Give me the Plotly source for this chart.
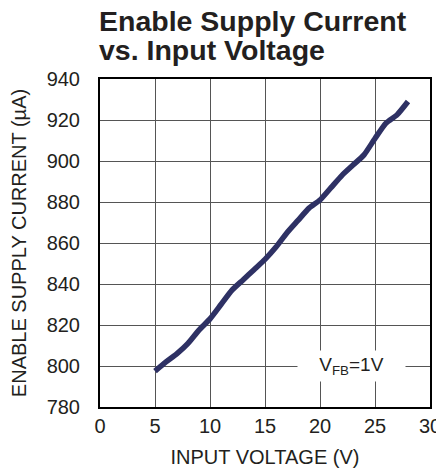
import plotly.graph_objects as go

voltage = [5, 6, 7, 8, 9, 10, 11, 12, 13, 14, 15, 16, 17, 18, 19, 20, 21, 22, 23, 24, 25, 26, 27, 28]
current = [797.5, 802, 806, 811, 817.5, 823, 830, 837, 842, 847, 852, 858, 865, 871, 877, 881,
           887, 893, 898, 903, 911, 918.5, 922.5, 929]

x_ticks = [0, 5, 10, 15, 20, 25, 30]
y_ticks = [780, 800, 820, 840, 860, 880, 900, 920, 940]

title_lines = ["Enable Supply Current", "vs. Input Voltage"]

fig = go.Figure()
fig.add_trace(go.Scatter(x=voltage, y=current, mode="lines",
                         line=dict(color="#2e3164", width=5.5, shape="spline", smoothing=0.6),
                         showlegend=False))

font = "Liberation Sans, Arial, sans-serif"
# page body has an 8px margin, so the figure is sized/placed to compensate
fig.update_layout(
    width=436, height=463,
    margin=dict(l=92, r=14, t=71, b=64, autoexpand=False),
    paper_bgcolor="white", plot_bgcolor="white",
    font=dict(family=font, color="#231f20", size=20),
    xaxis=dict(range=[0, 30], tickvals=x_ticks, showgrid=True, gridcolor="#555555", gridwidth=1,
               showline=True, linecolor="#000000", linewidth=2, mirror=True, ticks="",
               zeroline=False, automargin=False, ticklabelstandoff=0,
               tickfont=dict(size=20),
               title=dict(text="INPUT VOLTAGE (V)", standoff=14, font=dict(size=20))),
    yaxis=dict(range=[780, 940], tickvals=y_ticks, showgrid=True, gridcolor="#555555", gridwidth=1,
               showline=True, linecolor="#000000", linewidth=2, mirror=True, ticks="",
               zeroline=False, ticklabelstandoff=14, automargin=False,
               tickfont=dict(size=20),
               title=dict(text="ENABLE SUPPLY CURRENT (µA)", standoff=18, font=dict(size=20))),
)
for line, shift in zip(title_lines, [58, 29]):
    fig.add_annotation(xref="paper", yref="paper", x=0, y=1, xanchor="left", yanchor="middle",
                       xshift=-3, yshift=shift, align="left", showarrow=False,
                       text="<b>" + line + "</b>",
                       font=dict(size=28.5, family=font, color="#231f20"))
fig.add_annotation(x=22.86, y=800, text="V<sub>FB</sub>=1V", showarrow=False,
                   bgcolor="white", font=dict(size=19, family=font, color="#231f20"),
                   borderpad=3, width=101)

fig.write_html("out.html")
